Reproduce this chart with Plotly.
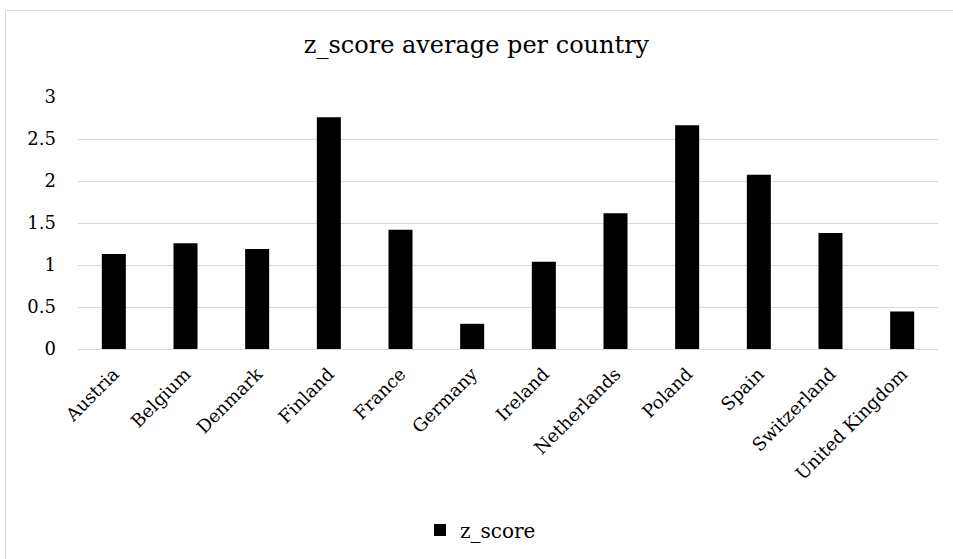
import plotly.graph_objects as go

countries = ["Austria", "Belgium", "Denmark", "Finland", "France", "Germany",
             "Ireland", "Netherlands", "Poland", "Spain", "Switzerland", "United Kingdom"]
z_score = [1.13, 1.26, 1.19, 2.76, 1.42, 0.30, 1.04, 1.615, 2.665, 2.075, 1.38, 0.445]
y_ticks = [0, 0.5, 1, 1.5, 2, 2.5, 3]

FONT = "DejaVu Serif"
W, H = 953, 559
L, R, T, B = 78, 15, 97, 210

fig = go.Figure()
fig.add_trace(go.Bar(x=countries, y=z_score, name="z_score",
                     marker=dict(color="#000000", line=dict(width=0))))

pw = W - L - R
ph = H - T - B
fig.add_shape(type="rect", xref="paper", yref="paper",
              x0=(5.5 - L) / pw, x1=(W + 20 - L) / pw,
              y0=-(H + 20 - (H - B)) / ph, y1=(H - B - 10.5) / ph,
              line=dict(color="#d9d9d9", width=1), fillcolor="rgba(0,0,0,0)", layer="below")

fig.update_layout(
    width=W, height=H,
    margin=dict(l=L, r=R, t=T, b=B, autoexpand=False),
    paper_bgcolor="white", plot_bgcolor="white",
    font=dict(family=FONT, color="#000000", size=18),
    title=dict(text="z_score average per country", x=0.5, xanchor="center",
               y=1 - 45 / H, yanchor="middle", font=dict(size=24, family=FONT)),
    bargap=0.665,
    showlegend=True,
    legend=dict(orientation="h", x=(420 - L) / pw, xanchor="left",
                y=-(530 - (H - B)) / ph, yanchor="middle",
                font=dict(size=20, family=FONT), itemwidth=30,
                bgcolor="rgba(0,0,0,0)"),
    xaxis=dict(tickangle=-45, showgrid=False, showline=False, ticks="",
               ticklabelstandoff=10,
               tickfont=dict(size=18, family=FONT)),
    yaxis=dict(range=[0, 3], tickvals=y_ticks, ticktext=[str(v) for v in y_ticks],
               showgrid=True, gridcolor="#d9d9d9", gridwidth=1,
               zeroline=True, zerolinecolor="#d9d9d9", zerolinewidth=1,
               showline=False, ticks="", ticklabelstandoff=21,
               tickfont=dict(size=18, family=FONT)),
)

fig.write_html("out.html")
